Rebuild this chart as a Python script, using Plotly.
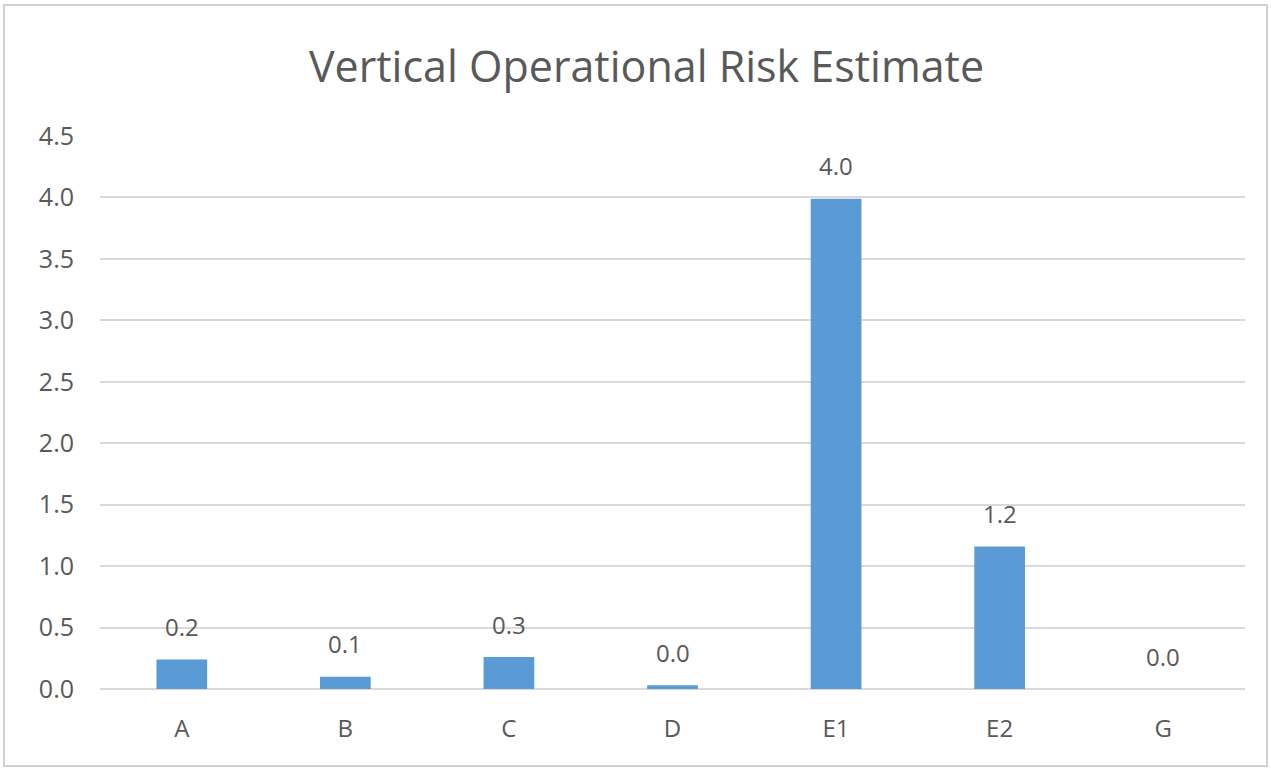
import plotly.graph_objects as go

categories = ["A", "B", "C", "D", "E1", "E2", "G"]
values = [0.24, 0.10, 0.26, 0.03, 3.99, 1.16, 0.0]
y_ticks = [0, 0.5, 1.0, 1.5, 2.0, 2.5, 3.0, 3.5, 4.0, 4.5]
title_text = "Vertical Operational Risk Estimate"

BAR = "#5B9BD5"
TXT = "#595959"
GRID = "#D9D9D9"
FONT = "Open Sans"

fig = go.Figure()
fig.add_trace(go.Bar(
    x=categories, y=values, marker=dict(color=BAR, line=dict(width=0)),
    width=0.31, hoverinfo="skip",
))

for c, v in zip(categories, values):
    fig.add_annotation(x=c, y=v, text=f"{v:.1f}", showarrow=False,
                       yanchor="middle", yshift=33,
                       font=dict(family=FONT, size=24, color=TXT))

L, R, T, B = 100, 26, 136, 81
W, H = 1271, 770
pw, ph = W - L - R, H - T - B
def px_x(p):
    return (p - L) / pw
def px_y(p):
    return (H - B - p) / ph

fig.add_shape(type="rect", xref="paper", yref="paper",
              x0=px_x(4), x1=px_x(1267), y0=px_y(766), y1=px_y(5),
              line=dict(color="#D0D0D0", width=2), layer="below")

fig.update_layout(
    width=W, height=H,
    margin=dict(l=L, r=R, t=T, b=B),
    paper_bgcolor="white", plot_bgcolor="white",
    title=dict(text=title_text, x=px_x(646.5), xref="paper", xanchor="center",
               y=1 - 67 / H, yanchor="middle",
               font=dict(family=FONT, size=43, color=TXT)),
    showlegend=False,
    bargap=0.69,
    xaxis=dict(showgrid=False, showline=False, ticks="", zeroline=False,
               tickfont=dict(family=FONT, size=24, color=TXT), ticklabelstandoff=23),
    yaxis=dict(range=[0, 4.5], tickvals=y_ticks, ticktext=[f"{t:.1f}" for t in y_ticks],
               showgrid=True, gridcolor=GRID, gridwidth=2, zeroline=True,
               zerolinecolor=GRID, zerolinewidth=2, showline=False, ticks="",
               tickfont=dict(family=FONT, size=25, color=TXT), ticklabelstandoff=25),
)

fig.write_html("out.html", config={"displayModeBar": False},
               post_script="document.body.style.margin='0px';")
